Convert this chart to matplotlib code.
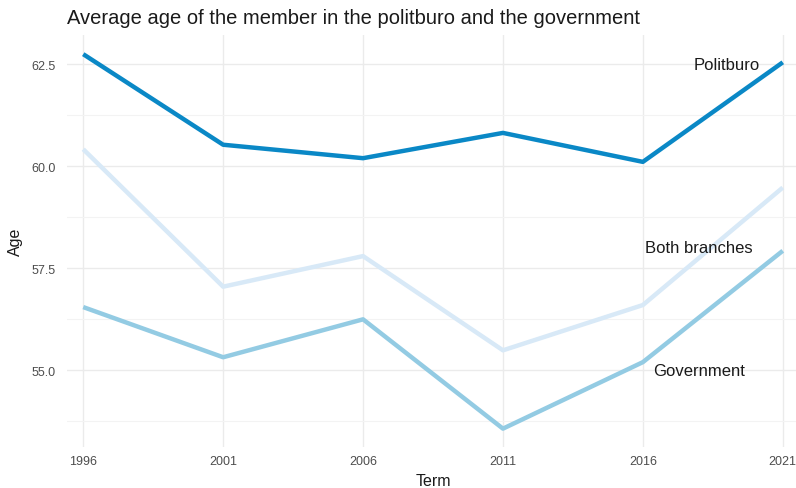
import matplotlib.pyplot as plt
import numpy as np

# Data
terms = [1996, 2001, 2006, 2011, 2016, 2021]
politburo = [62.75, 60.53, 60.20, 60.82, 60.11, 62.55]
both_branches = [60.42, 57.05, 57.80, 55.49, 56.60, 59.48]
government = [56.55, 55.32, 56.25, 53.57, 55.20, 57.93]

labels = ['Politburo', 'Both branches', 'Government']
label_x = [2019, 2018, 2018]
label_y = [62.5, 58.0, 55.0]
colors = ['#0a88c6', '#d8e9f7', '#93cbe3']


def main():
    plt.rcParams['font.family'] = ['Liberation Sans', 'DejaVu Sans']

    fig = plt.figure(figsize=(7.96, 4.89), dpi=100)
    W, H = 796, 489
    left, right, top, bottom = 67, 799, 36, 448
    ax = fig.add_axes([left / W, 1 - bottom / H, (right - left) / W, (bottom - top) / H])

    # Lines, drawn back to front like the reference
    ax.plot(terms, both_branches, color=colors[1], lw=3.2, solid_capstyle='butt', zorder=3)
    ax.plot(terms, government, color=colors[2], lw=3.2, solid_capstyle='butt', zorder=3)
    ax.plot(terms, politburo, color=colors[0], lw=3.2, solid_capstyle='butt', zorder=4)

    for lab, lx, ly in zip(labels, label_x, label_y):
        ax.text(lx, ly, lab, ha='center', va='center', fontsize=12, color='#1a1a1a', zorder=5)

    ax.set_xlim(1996 - 0.58, 2021 + 0.58)
    ax.set_ylim(53.12, 63.22)
    ax.set_xticks(terms)
    ax.set_yticks([55.0, 57.5, 60.0, 62.5])
    ax.set_yticklabels(['55.0', '57.5', '60.0', '62.5'])
    ax.set_yticks([53.75, 56.25, 58.75, 61.25], minor=True)

    # theme_minimal look
    for s in ax.spines.values():
        s.set_visible(False)
    ax.grid(True, which='major', color='#ebebeb', lw=1.0, zorder=0)
    ax.grid(True, which='minor', axis='y', color='#f3f3f3', lw=0.8, zorder=0)
    ax.set_axisbelow(True)
    ax.tick_params(which='both', length=0, labelsize=9, labelcolor='#4d4d4d')
    ax.tick_params(axis='y', pad=8)
    ax.tick_params(axis='x', pad=6)

    ax.set_xlabel('Term', fontsize=11.5, color='#1a1a1a', labelpad=4)
    ax.set_ylabel('Age', fontsize=11.5, color='#1a1a1a', labelpad=6)
    fig.text(left / W, 1 - 18 / H, 'Average age of the member in the politburo and the government',
             fontsize=14.5, color='#1a1a1a', ha='left', va='center')

    fig.savefig('out.png', dpi=100, facecolor='white')


if __name__ == '__main__':
    main()
